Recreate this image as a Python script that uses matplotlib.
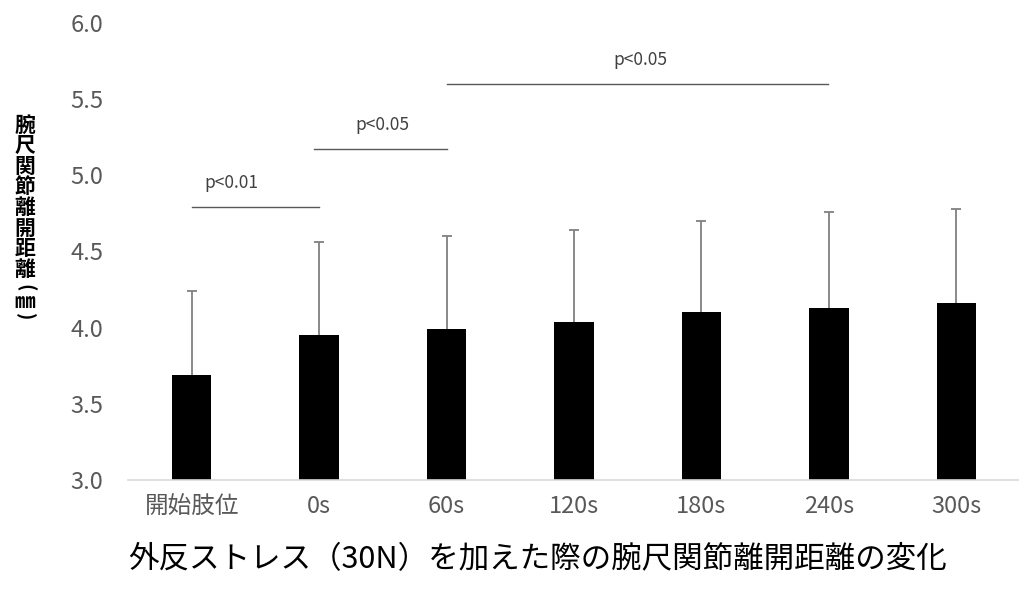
import matplotlib
matplotlib.use("Agg")
import matplotlib.pyplot as plt
import numpy as np

plt.rcParams['font.family'] = ['Noto Sans CJK JP', 'DejaVu Sans']

categories = ["開始肢位", "0s", "60s", "120s", "180s", "240s", "300s"]
means = [3.69, 3.95, 3.99, 4.04, 4.10, 4.13, 4.16]
sds = [0.55, 0.61, 0.61, 0.60, 0.60, 0.63, 0.62]

# significance brackets: (x start, x end, line y, label, label x, label y)
brackets = [
    (0.0, 1.0, 4.79, "p<0.01", 0.31, 4.95),
    (0.96, 2.0, 5.17, "p<0.05", 1.50, 5.33),
    (2.0, 4.99, 5.60, "p<0.05", 3.52, 5.76),
]

title = "外反ストレス（30N）を加えた際の腕尺関節離開距離の変化"
ylabel_chars = ["腕", "尺", "関", "節", "離", "開", "距", "離"]
ylabel_unit = ["(", "㎜", ")"]
yticks = [3.0, 3.5, 4.0, 4.5, 5.0, 5.5, 6.0]

W, H = 1020, 597
fig = plt.figure(figsize=(W / 100, H / 100), dpi=100)
ax = fig.add_axes([0.1255, 0.196, 0.8745, 0.7655])

x = np.arange(len(categories))
tops = np.array(means) + np.array(sds)
ax.vlines(x, means, tops, color="#808080", lw=1.3, zorder=1)
ax.plot(x, tops, linestyle="none", marker="_", markersize=7, markeredgewidth=1.3,
        color="#808080", zorder=1)
ax.bar(x, means, width=0.31, color="black", zorder=2)

ax.set_xlim(-0.5, len(categories) - 0.5)
ax.set_ylim(3.0, 6.0)
ax.set_yticks(yticks)
ax.set_yticklabels([f"{v:.1f}" for v in yticks], fontsize=17, color="#595959")
ax.set_xticks(x)
ax.set_xticklabels(categories, fontsize=17, color="#595959")
ax.tick_params(axis="both", length=0)
ax.tick_params(axis="x", pad=11)
ax.tick_params(axis="y", pad=18)
for s in ["top", "right", "left"]:
    ax.spines[s].set_visible(False)
ax.spines["bottom"].set_color("#d9d9d9")
ax.spines["bottom"].set_linewidth(1.2)

for x0, x1, ly, lab, tx, ty in brackets:
    ax.plot([x0, x1], [ly, ly], color="#595959", lw=1.0, clip_on=False)
    ax.text(tx, ty, lab, ha="center", va="center", fontsize=12.5, color="#404040")

# vertical y-axis label, stacked characters
lx = 25 / W
for i, ch in enumerate(ylabel_chars):
    fig.text(lx, 1 - (125 + 20.6 * i) / H, ch, ha="center", va="center",
             fontsize=15, fontweight="bold", color="black")
fig.text(lx, 1 - 288 / H, ylabel_unit[0], ha="center", va="center", rotation=-90,
         fontsize=14, fontweight="bold", color="black")
fig.text(lx, 1 - 302 / H, ylabel_unit[1], ha="center", va="center",
         fontsize=15, fontweight="bold", color="black")
fig.text(lx, 1 - 317 / H, ylabel_unit[2], ha="center", va="center", rotation=-90,
         fontsize=14, fontweight="bold", color="black")

fig.text(0.527, 0.063, title, ha="center", va="center", fontsize=22, color="black")

fig.savefig("out.png", dpi=100)
